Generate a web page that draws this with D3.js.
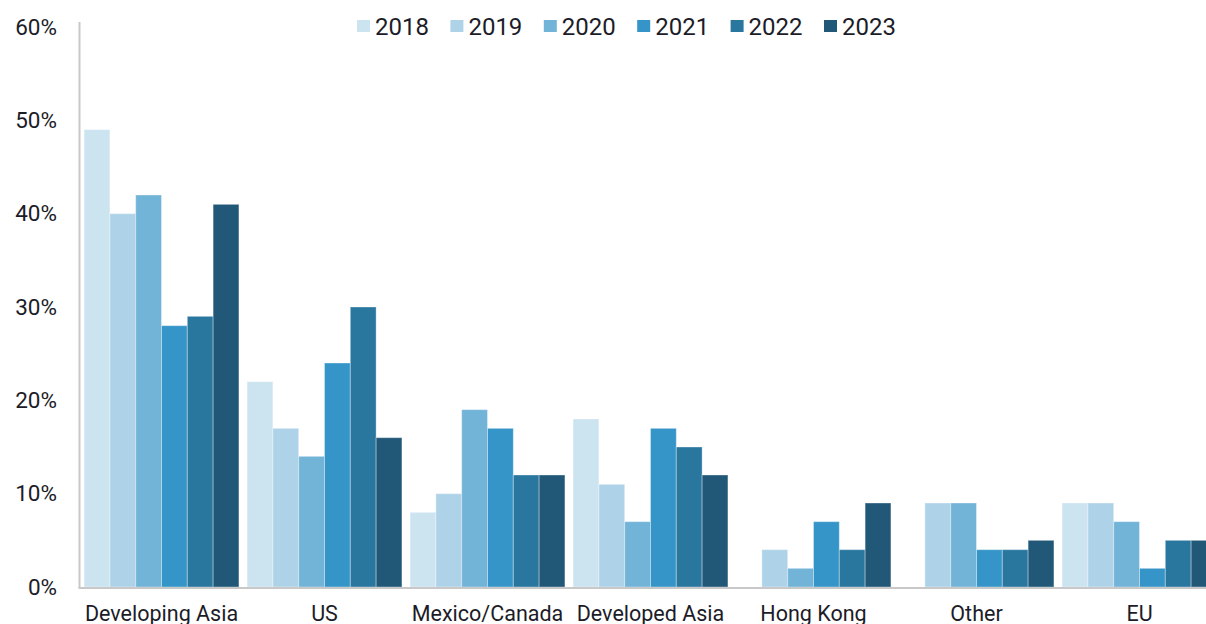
<!DOCTYPE html>
<html>
<head>
<meta charset="utf-8">
<script src="https://cdn.jsdelivr.net/npm/d3@7"></script>
<style>
  html, body { margin: 0; padding: 0; background: #fff; overflow: hidden; }
  svg { display: block; }
  svg text { font-family: Roboto, "Noto Sans", sans-serif; }
</style>
</head>
<body>
<svg id="chart" width="1206" height="624"></svg>
<script>
// Share of total by region, per year (percent)
const regions = ["Developing Asia", "US", "Mexico/Canada", "Developed Asia", "Hong Kong", "Other", "EU"];
const years = ["2018", "2019", "2020", "2021", "2022", "2023"];
const v2018 = [49, 22, 8, 18, 0, 0, 9];
const v2019 = [40, 17, 10, 11, 4, 9, 9];
const v2020 = [42, 14, 19, 7, 2, 9, 7];
const v2021 = [28, 24, 17, 17, 7, 4, 2];
const v2022 = [29, 30, 12, 15, 4, 4, 5];
const v2023 = [41, 16, 12, 12, 9, 5, 5];
const yTicks = [0, 10, 20, 30, 40, 50, 60];
const colors = ["#cce3f0", "#aed3e8", "#72b3d8", "#3595c8", "#29769f", "#215878"];

const seriesValues = [v2018, v2019, v2020, v2021, v2022, v2023];
const rows = regions.map((r, i) => ({
  region: r,
  values: years.map((y, j) => ({ year: y, value: seriesValues[j][i] }))
}));

const FONT = "Roboto, 'Noto Sans', sans-serif";
const svg = d3.select("#chart");
const margin = { left: 80, top: 27, bottom: 37 };
const plotW = 163 * regions.length;
const height = 624;

const x0 = d3.scaleBand().domain(regions).range([margin.left, margin.left + plotW])
  .paddingInner(0.05).paddingOuter(0.025);
const x1 = d3.scaleBand().domain(years).range([0, x0.bandwidth()]).padding(0);
const y = d3.scaleLinear().domain([0, 60]).range([height - margin.bottom, margin.top]);
const color = d3.scaleOrdinal().domain(years).range(colors);

// Bars
const groups = svg.append("g").selectAll("g").data(rows).join("g")
  .attr("transform", d => `translate(${x0(d.region)},0)`);
groups.selectAll("rect").data(d => d.values).join("rect")
  .attr("x", d => x1(d.year))
  .attr("y", d => y(d.value))
  .attr("width", x1.bandwidth())
  .attr("height", d => y(0) - y(d.value))
  .attr("fill", d => color(d.year))
  .attr("stroke", "#ffffff")
  .attr("stroke-opacity", 0.35)
  .attr("stroke-width", 1);

// Y axis (labels only, plus a grey spine)
const yAxis = d3.axisLeft(y).tickValues(yTicks).tickFormat(d => d + "%").tickSize(0).tickPadding(23);
const yg = svg.append("g").attr("transform", `translate(${margin.left},0)`).call(yAxis)
  .attr("font-family", FONT);
yg.select(".domain").remove();
yg.selectAll("text").attr("font-size", 22.5).attr("fill", "#1c1c28");
svg.append("line")
  .attr("x1", margin.left - 0.5).attr("x2", margin.left - 0.5)
  .attr("y1", margin.top - 5).attr("y2", y(0) + 1)
  .attr("stroke", "#c8c8c8").attr("stroke-width", 2);

// X axis
const xAxis = d3.axisBottom(x0).tickSize(0).tickPadding(19);
const xg = svg.append("g").attr("transform", `translate(0,${y(0)})`).call(xAxis)
  .attr("font-family", FONT);
xg.select(".domain").remove();
xg.selectAll("text").attr("font-size", 21.5).attr("fill", "#1c1c28");
svg.append("line")
  .attr("x1", margin.left - 1.5).attr("x2", margin.left + plotW)
  .attr("y1", y(0) + 1).attr("y2", y(0) + 1)
  .attr("stroke", "#c8c8c8").attr("stroke-width", 2);

// Legend
const legend = svg.append("g").attr("transform", "translate(357,20)").attr("font-family", FONT);
const items = legend.selectAll("g").data(years).join("g")
  .attr("transform", (d, i) => `translate(${i * 93.4},0)`);
items.append("rect").attr("width", 13).attr("height", 12).attr("fill", d => color(d));
items.append("text").attr("x", 18).attr("y", 6).attr("dy", "0.36em")
  .attr("font-size", 24).attr("fill", "#1c1c28").text(d => d);
</script>
</body>
</html>
